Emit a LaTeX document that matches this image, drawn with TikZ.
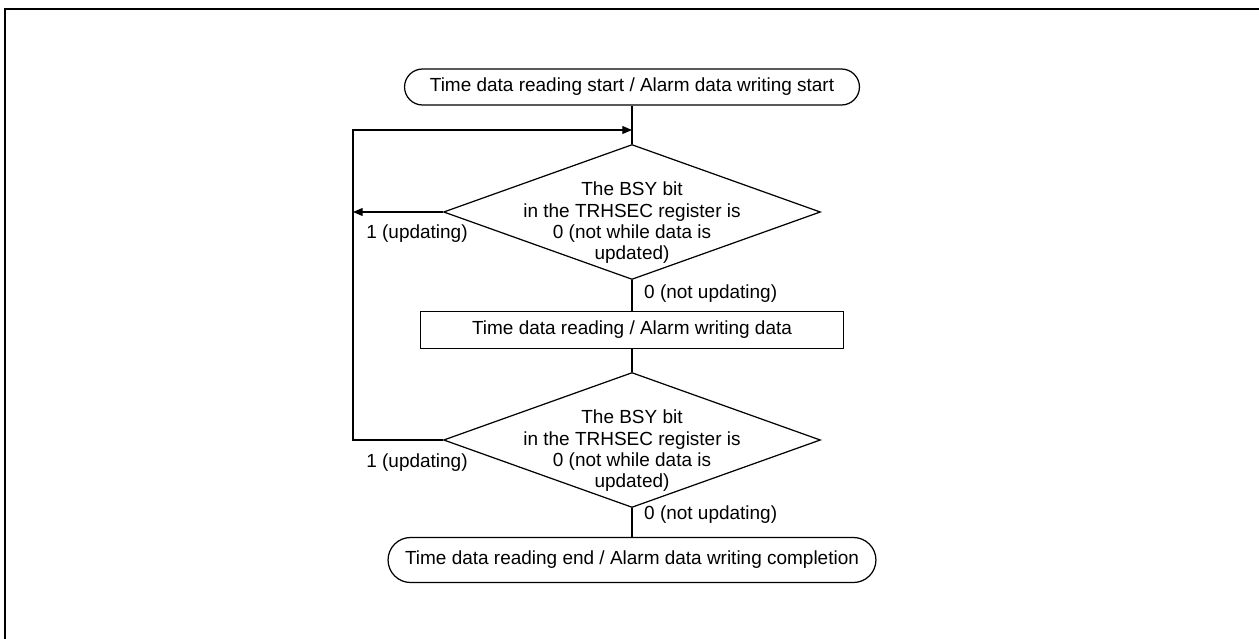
\documentclass[tikz,border=0pt]{standalone}
\usepackage{fontspec}
\setmainfont{Liberation Sans}
\usetikzlibrary{arrows.meta,shapes.geometric}

\tikzset{
  line/.style={line width=0.7pt},
  tip/.style={-{Triangle[length=5.5pt,width=4.5pt]}},
  terminal/.style={draw,line,align=center},
  check/.style={draw,line,diamond,aspect=2.79,inner xsep=-0.6cm,inner ysep=-0.35cm,
                align=center,minimum width=7.54cm,minimum height=2.7cm},
}
\newcommand{\bsytext}{\rule{0pt}{20pt}The BSY bit\\in the TRHSEC register is\\0 (not while data is\\updated)}

\begin{document}
\begin{tikzpicture}[x=0.02cm,y=-0.02cm,font=\fontsize{10.8}{12}\selectfont]
\useasboundingbox (0,0) rectangle (1259,639);
\draw[line width=1.1pt] (5,639) -- (5,9) -- (1259,9);

\begin{scope}
    \node[terminal,rounded corners=0.36cm,minimum width=9.1cm,minimum height=0.72cm] (start) at (632,87) {Time data reading start / Alarm data writing start};
    \node[check] (chk1) at (632,212) {\bsytext};
    \node[terminal,minimum width=8.46cm,minimum height=0.74cm] (rw) at (632,330) {Time data reading / Alarm writing data};
    \node[check] (chk2) at (632,440) {\bsytext};
    \node[terminal,rounded corners=0.45cm,minimum width=9.76cm,minimum height=0.9cm] (stop) at (632,560) {Time data reading end / Alarm data writing completion};
\end{scope}

\coordinate (join) at (632,130);
\coordinate (back) at (353,212);

\begin{scope}[every path/.style={line}]
    \draw (start) -- (chk1);
    \draw[tip] (chk1.west) -- (back);
    \draw (chk1) -- (rw);
    \draw (rw) -- (chk2);
    \draw (chk2) -- (stop);
    \draw[tip] (chk2.west) -- (chk2.west -| back) -- (back |- join) -- (join);
\end{scope}

\node (upd1) at (417,234) {1 (updating)};
\node[anchor=west] (noupd1) at (638,294) {0 (not updating)};
\node (upd2) at (417,463) {1 (updating)};
\node[anchor=west] (noupd2) at (638,515) {0 (not updating)};
\end{tikzpicture}
\end{document}
